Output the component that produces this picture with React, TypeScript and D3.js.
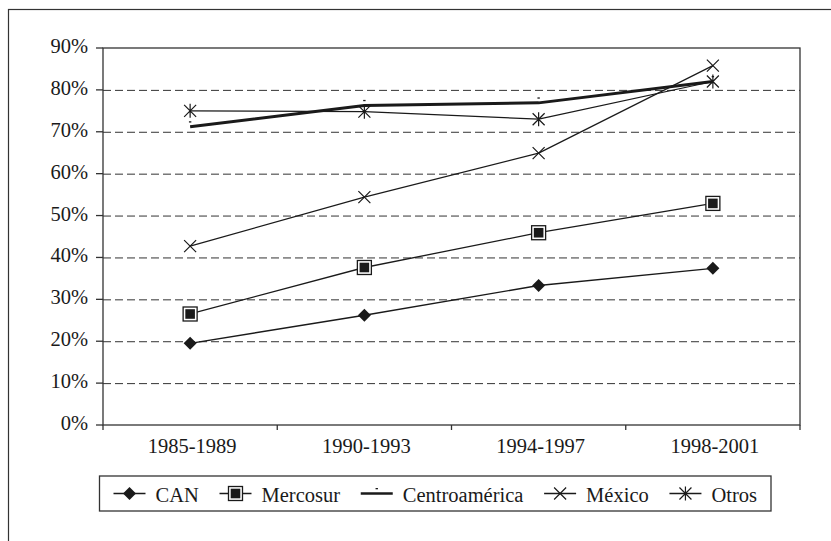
import React, { useEffect, useRef } from 'react';
import * as d3 from 'd3';

const periods = ['1985-1989', '1990-1993', '1994-1997', '1998-2001'];
const can = [19.5, 26.2, 33.3, 37.4];
const mercosur = [26.5, 37.6, 45.9, 52.9];
const centroamerica = [71.2, 76.3, 76.9, 82.0];
const mexico = [42.7, 54.4, 64.9, 85.8];
const otros = [75.0, 74.8, 73.0, 82.0];
const yTicks = [0, 10, 20, 30, 40, 50, 60, 70, 80, 90];
const seriesNames = ['CAN', 'Mercosur', 'Centroamérica', 'México', 'Otros'];

const W = 831;
const H = 541;
const FONT = '"Liberation Serif", "DejaVu Serif", serif';
const FS = 20.5;
const INK = '#1a1a1a';

type Marker = 'diamond' | 'square' | 'dash' | 'x' | 'star';

const drawMarker = (g: d3.Selection<SVGGElement, unknown, null, undefined>, kind: Marker, cx: number, cy: number) => {
  if (kind === 'diamond') {
    g.append('path')
      .attr('d', `M${cx},${cy - 6.5}L${cx + 6.5},${cy}L${cx},${cy + 6.5}L${cx - 6.5},${cy}Z`)
      .attr('fill', INK);
  } else if (kind === 'square') {
    g.append('rect').attr('x', cx - 7).attr('y', cy - 7).attr('width', 14).attr('height', 14)
      .attr('fill', '#fff').attr('stroke', INK).attr('stroke-width', 1.3);
    g.append('rect').attr('x', cx - 4.8).attr('y', cy - 4.8).attr('width', 9.6).attr('height', 9.6)
      .attr('fill', INK);
  } else if (kind === 'dash') {
    g.append('rect').attr('x', cx - 1.2).attr('y', cy - 5.5).attr('width', 2.4).attr('height', 1.3)
      .attr('fill', INK);
  } else if (kind === 'x') {
    const r = 6;
    g.append('path')
      .attr('d', `M${cx - r},${cy - r}L${cx + r},${cy + r}M${cx - r},${cy + r}L${cx + r},${cy - r}`)
      .attr('stroke', INK).attr('stroke-width', 1.2).attr('fill', 'none');
  } else {
    const r = 6;
    g.append('path')
      .attr('d', `M${cx - r},${cy - r}L${cx + r},${cy + r}M${cx - r},${cy + r}L${cx + r},${cy - r}M${cx},${cy - r - 1}L${cx},${cy + r + 1}`)
      .attr('stroke', INK).attr('stroke-width', 1.2).attr('fill', 'none');
  }
};

const App: React.FC = () => {
  const ref = useRef<SVGSVGElement>(null);

  useEffect(() => {
    const svg = d3.select(ref.current);
    svg.selectAll('*').remove();

    const left = 103, right = 800, top = 48, bottom = 425;
    const x = d3.scaleBand<string>().domain(periods).range([left, right]);
    const y = d3.scaleLinear().domain([0, 90]).range([bottom, top]);

    // outer frame (cut by the picture edge on the right and bottom)
    svg.append('rect').attr('x', 8.5).attr('y', 9.5).attr('width', 900).attr('height', 700)
      .attr('fill', '#fff').attr('stroke', '#333').attr('stroke-width', 1.2);

    // grid
    svg.append('g').selectAll('line').data(yTicks.filter(t => t > 0 && t < 90)).join('line')
      .attr('x1', left).attr('x2', right)
      .attr('y1', d => y(d) + 0.5).attr('y2', d => y(d) + 0.5)
      .attr('stroke', '#333').attr('stroke-width', 1).attr('stroke-dasharray', '8,4');

    // plot frame
    svg.append('rect').attr('x', left).attr('y', top).attr('width', right - left).attr('height', bottom - top)
      .attr('fill', 'none').attr('stroke', '#333').attr('stroke-width', 1.3);

    // y ticks + labels
    const ya = svg.append('g');
    ya.selectAll('line').data(yTicks).join('line')
      .attr('x1', left - 7).attr('x2', left).attr('y1', d => y(d)).attr('y2', d => y(d))
      .attr('stroke', '#333').attr('stroke-width', 1.3);
    ya.selectAll('text').data(yTicks).join('text')
      .attr('x', 88).attr('y', d => y(d) + 5)
      .attr('text-anchor', 'end').attr('font-family', FONT).attr('font-size', FS).attr('fill', INK)
      .text(d => `${d}%`);

    // x ticks + labels
    const bounds = [...periods.map(p => x(p) as number), right];
    svg.append('g').selectAll('line').data(bounds).join('line')
      .attr('x1', d => d).attr('x2', d => d).attr('y1', bottom).attr('y2', bottom + 5)
      .attr('stroke', '#333').attr('stroke-width', 1.3);
    svg.append('g').selectAll('text').data(periods).join('text')
      .attr('x', d => (x(d) as number) + x.bandwidth() / 2 + 2).attr('y', 452.5)
      .attr('text-anchor', 'middle').attr('font-family', FONT).attr('font-size', FS).attr('fill', INK)
      .text(d => d);

    const series: { name: string; values: number[]; marker: Marker; width: number }[] = [
      { name: seriesNames[0], values: can, marker: 'diamond', width: 1.4 },
      { name: seriesNames[1], values: mercosur, marker: 'square', width: 1.3 },
      { name: seriesNames[2], values: centroamerica, marker: 'dash', width: 3 },
      { name: seriesNames[3], values: mexico, marker: 'x', width: 1.2 },
      { name: seriesNames[4], values: otros, marker: 'star', width: 1.2 },
    ];

    const line = d3.line<number>()
      .x((_, i) => (x(periods[i]) as number) + x.bandwidth() / 2)
      .y(d => y(d));

    series.forEach(s => {
      const g = svg.append('g');
      g.append('path').attr('d', line(s.values) as string)
        .attr('fill', 'none').attr('stroke', INK).attr('stroke-width', s.width)
        .attr('stroke-linejoin', 'round');
      s.values.forEach((v, i) => drawMarker(g, s.marker, (x(periods[i]) as number) + x.bandwidth() / 2, y(v)));
    });

    // legend
    const lx0 = 99.5, lx1 = 771, ly0 = 476, ly1 = 511;
    const leg = svg.append('g');
    leg.append('rect').attr('x', lx0).attr('y', ly0).attr('width', lx1 - lx0).attr('height', ly1 - ly0)
      .attr('fill', '#fff').attr('stroke', '#333').attr('stroke-width', 1.3);
    const items = series.map(s => {
      const gi = leg.append('g');
      const t = gi.append('text').attr('font-family', FONT).attr('font-size', FS).attr('fill', INK)
        .attr('y', 501.5).text(s.name);
      const w = (t.node() as SVGTextElement).getComputedTextLength();
      return { s, gi, t, w };
    });
    const sym = 32, gapIn = 10;
    const totalItems = items.reduce((acc, it) => acc + sym + gapIn + it.w, 0);
    const pad = 14;
    const gapOut = (lx1 - lx0 - 2 * pad - totalItems) / (items.length - 1);
    let cx = lx0 + pad;
    const my = 493.5;
    items.forEach(it => {
      it.gi.append('line').attr('x1', cx).attr('x2', cx + sym).attr('y1', my).attr('y2', my)
        .attr('stroke', INK).attr('stroke-width', it.s.width === 3 ? 2.6 : 1.3);
      drawMarker(it.gi as any, it.s.marker, cx + sym / 2, my);
      it.t.attr('x', cx + sym + gapIn);
      cx += sym + gapIn + it.w + gapOut;
    });
  }, []);

  return (
    <svg ref={ref} width={W} height={H} style={{ position: 'absolute', left: 0, top: 0, background: '#fff' }} />
  );
};

export default App;
